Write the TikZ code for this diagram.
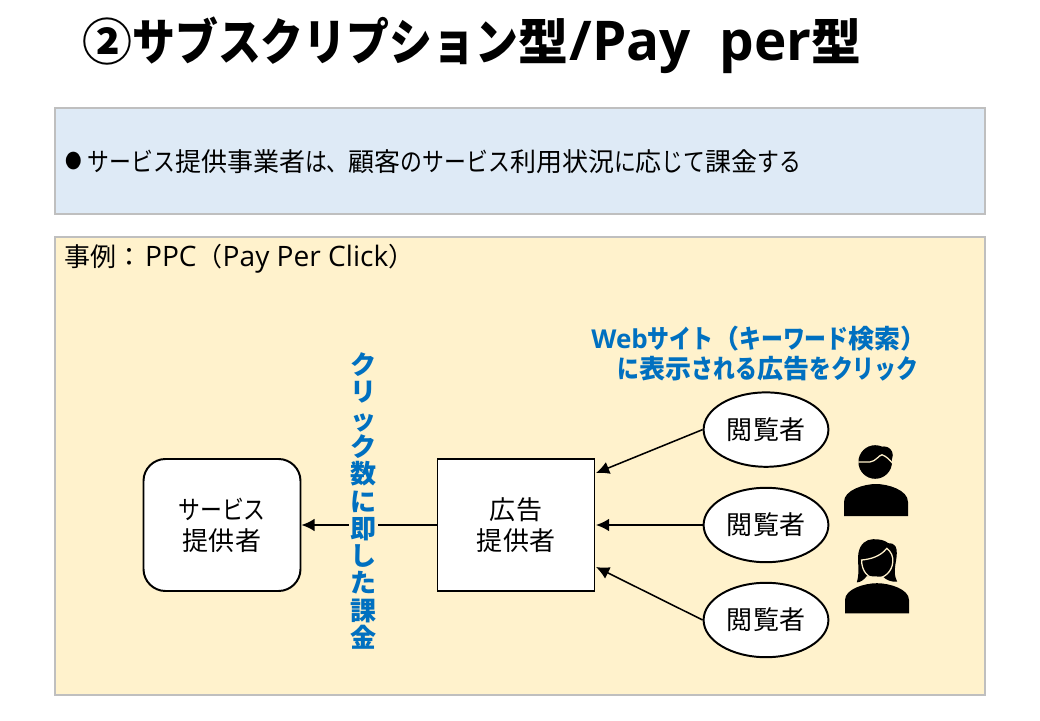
\documentclass[tikz,border=0pt]{standalone}
\usepackage{fontspec}
\setmainfont{Noto Sans CJK JP}
\newfontfamily\kanafont[FakeStretch=0.84]{Noto Sans CJK JP}
\newfontfamily\titlekana[FakeStretch=0.86]{Noto Sans CJK JP}
\newfontfamily\latinfont{Open Sans}
\newcommand{\kn}[1]{{\kanafont #1}}
\newcommand{\lt}[1]{{\latinfont #1}}
\usetikzlibrary{arrows.meta,shapes.geometric}
\definecolor{panelgray}{HTML}{BFBFBF}
\definecolor{panelblue}{HTML}{DEEAF6}
\definecolor{panelyellow}{HTML}{FFF2CC}
\definecolor{noteblue}{HTML}{0070C0}
\tikzset{
  panel/.style={draw=panelgray,line width=2.1pt,minimum width=23.25cm,inner sep=0pt},
  bodytext/.style={font=\fontsize{18.5}{22}\selectfont,inner sep=0pt},
  notetext/.style={font=\fontsize{18.5}{22}\selectfont\bfseries,text=noteblue,inner sep=0pt,align=center},
  actor/.style={draw,fill=white,line width=1.4pt,minimum width=3.925cm,minimum height=3.3cm,align=center,bodytext},
  viewer/.style={draw,fill=white,line width=1.4pt,ellipse,minimum width=3.12cm,minimum height=1.86cm,bodytext},
  link/.style={line width=1.1pt,-{Latex[length=3.3mm,width=3.2mm]}},
  cutline/.style={draw=panelyellow,line width=0.9pt}
}
\begin{document}
\begin{tikzpicture}
  \useasboundingbox (0,0) rectangle (26,18);
  % panels
  \node[panel,fill=panelblue,minimum height=2.65cm] (summary) at (13,13.975) {};
  \node[panel,fill=panelyellow,minimum height=11.45cm] (case) at (13,6.35) {};
  % texts
  \node[anchor=west,inner sep=0pt,font=\fontsize{35.5}{40}\selectfont\bfseries] (title) at (2.05,16.87) {②{\titlekana サブスクリプション}型\hspace{1pt}{\latinfont\fontsize{39}{40}\selectfont /Pay\ \ per}型};
  \node[anchor=west,bodytext] (point) at (1.62,13.97) {\raisebox{1.5pt}{\kanafont\fontsize{14}{14}\selectfont ●}\hspace{4.3pt}\kn{サービス}提供事業者\kn{は、}顧客\kn{のサービス}利用状況\kn{に}応\kn{じて}課金\kn{する}};
  \node[anchor=west,bodytext] (caselabel) at (1.6,11.54) {事例：\hspace{2pt}{\latinfont\fontsize{20}{22}\selectfont PPC}（{\latinfont\fontsize{20}{22}\selectfont Pay Per Click}）};
  \node[notetext] (webnote) at (18.975,9.16) {\lt{Web}\kn{サイト}（\kn{キーワード}検索）\\\hspace*{.7em}\kn{に}表示\kn{される}広告\kn{をクリック}};
  % boxes
  \node[actor,rounded corners=0.55cm] (service) at (5.55,4.875) {\kn{サービス}\\提供者};
  \node[actor] (ad) at (12.9,4.875) {広告\\提供者};
  \node[viewer] (view1) at (19.15,7.26) {閲覧者};
  \node[viewer] (view2) at (19.15,4.875) {閲覧者};
  \node[viewer] (view3) at (19.15,2.5) {閲覧者};
  \coordinate (adtop) at (14.9,6.175);
  \coordinate (admid) at (14.9,4.875);
  \coordinate (adlow) at (14.9,3.825);
  % arrows
  \draw[link] (view1.west) -- (adtop);
  \draw[link] (view2.west) -- (admid);
  \draw[link] (view3.west) -- (adlow);
  \draw[link] (ad) -- (service);
  \node[notetext,fill=panelyellow,inner xsep=1pt,font=\fontsize{18.5}{19.4}\selectfont\bfseries] (clicknote) at (9.08,5.475) {ク\\リ\\ッ\\ク\\数\\に\\即\\し\\た\\課\\金};
  % man
  \fill (21.1,5.1) -- (21.1,5.45) .. controls (21.1,5.75) and (21.6,5.9) .. (21.9,5.9) .. controls (22.2,5.9) and (22.7,5.75) .. (22.7,5.45) -- (22.7,5.1) -- cycle;
  \fill (21.88,6.45) circle (0.42);
  \fill (22.1,6.62) circle (0.22);
  \draw[cutline] (21.42,6.45) -- (21.75,6.45) .. controls (21.9,6.47) and (21.97,6.62) .. (22.05,6.63) .. controls (22.15,6.6) and (22.25,6.5) .. (22.33,6.4);
  % woman
  \fill (21.125,2.667) -- (21.125,3) .. controls (21.125,3.27) and (21.6,3.42) .. (21.925,3.42) .. controls (22.25,3.42) and (22.725,3.27) .. (22.725,3) -- (22.725,2.667) -- cycle;
  \fill (21.42,3.44) .. controls (21.5,3.7) and (21.43,3.95) .. (21.46,4.17) .. controls (21.5,4.4) and (21.65,4.52) .. (21.83,4.52) .. controls (22,4.52) and (22.1,4.5) .. (22.21,4.42) .. controls (22.4,4.42) and (22.42,4.3) .. (22.42,4.17) .. controls (22.42,3.95) and (22.3,3.7) .. (22.43,3.46) .. controls (22.3,3.44) and (22.15,3.5) .. (22.08,3.58) -- (21.67,3.6) .. controls (21.6,3.5) and (21.5,3.44) .. (21.42,3.44) -- cycle;
  \draw[cutline] (21.54,4) .. controls (21.75,4.02) and (22,4.08) .. (22.17,4.29) .. controls (22.28,4.2) and (22.33,4.1) .. (22.32,3.95) .. controls (22.3,3.7) and (22.1,3.54) .. (21.9,3.54) .. controls (21.7,3.54) and (21.54,3.72) .. (21.54,4) -- cycle;
\end{tikzpicture}
\end{document}
